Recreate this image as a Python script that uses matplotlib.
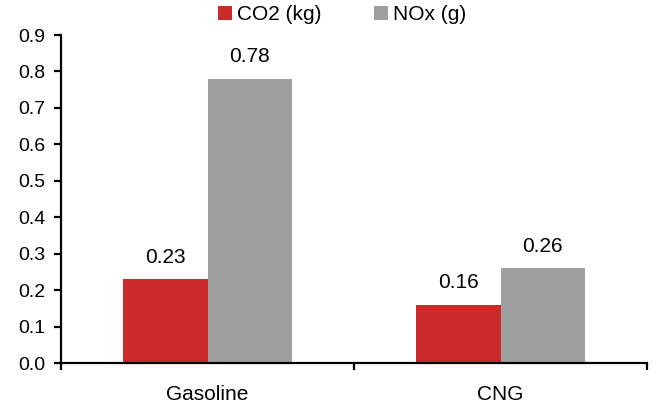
import matplotlib
matplotlib.use('Agg')
import matplotlib.pyplot as plt
import numpy as np

plt.rcParams['font.family'] = ['Liberation Sans', 'DejaVu Sans']

# 数据
categories = ['Gasoline', 'CNG']
co2_kg = [0.23, 0.16]
nox_g = [0.78, 0.26]
series_names = ['CO2 (kg)', 'NOx (g)']
y_ticks = [0.0, 0.1, 0.2, 0.3, 0.4, 0.5, 0.6, 0.7, 0.8, 0.9]

RED = '#CC292B'
GREY = '#9F9F9F'
FS = 15

fig = plt.figure(figsize=(6.56, 4.07), dpi=100)
ax = fig.add_axes([61 / 656, 1 - 363 / 407, 586 / 656, 328 / 407])

x = np.arange(len(categories))
w = 0.287
b1 = ax.bar(x - w / 2, co2_kg, w, color=RED, label=series_names[0])
b2 = ax.bar(x + w / 2, nox_g, w, color=GREY, label=series_names[1])

for bars, vals in ((b1, co2_kg), (b2, nox_g)):
    for rect, v in zip(bars, vals):
        ax.annotate(f'{v:.2f}', (rect.get_x() + rect.get_width() / 2, v),
                    xytext=(0, 9), textcoords='offset points',
                    ha='center', va='bottom', fontsize=FS)

ax.set_xlim(-0.5, len(categories) - 0.5)
ax.set_ylim(0, 0.9)
ax.set_yticks(y_ticks)
ax.set_yticklabels([f'{t:.1f}' for t in y_ticks])

# 类别标签居中，刻度线在类别分界处
ax.set_xticks(x)
ax.set_xticklabels(categories)
ax.set_xticks(np.arange(len(categories) + 1) - 0.5, minor=True)
ax.tick_params(axis='x', which='major', length=0, pad=16, labelsize=FS)
ax.tick_params(axis='x', which='minor', length=5, width=1.6, direction='out')
ax.tick_params(axis='y', length=5, width=1.6, direction='out', labelsize=FS - 1, pad=6)

for side in ('top', 'right'):
    ax.spines[side].set_visible(False)
for side in ('left', 'bottom'):
    ax.spines[side].set_linewidth(1.6)

fig.legend(loc='center', bbox_to_anchor=(342 / 656, 1 - 15 / 407), ncol=2,
           frameon=False, fontsize=FS, handlelength=0.67, handleheight=0.67,
           handletextpad=0.25, columnspacing=2.5, borderaxespad=0)

plt.savefig('out.png', dpi=100)
plt.close()
